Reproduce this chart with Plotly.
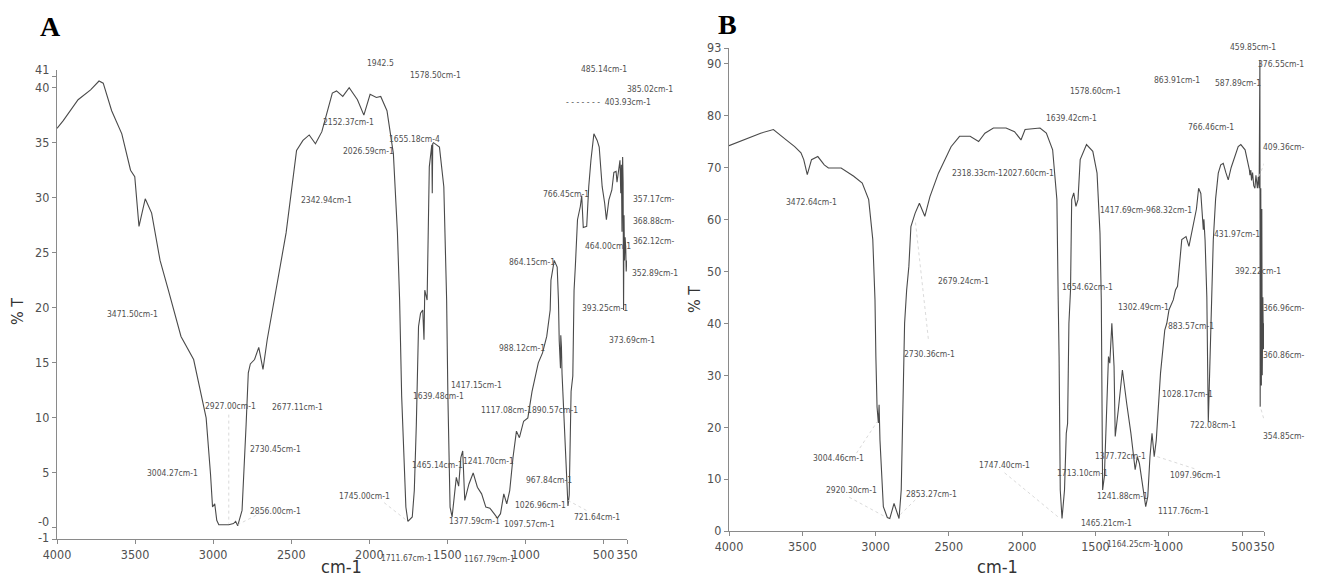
import plotly.graph_objects as go

# ---------------- data ----------------
wn_a = [4000, 3960, 3865, 3785, 3731, 3704, 3650, 3596, 3585, 3529, 3502, 3475, 3435, 3394, 3340,
        3287, 3206, 3125, 3045, 3017, 3004, 2990, 2977, 2964, 2900, 2870, 2856, 2843, 2815, 2789,
        2775, 2762, 2735, 2708, 2681, 2654, 2600, 2533, 2466, 2425, 2385, 2345, 2304, 2237, 2210,
        2170, 2129, 2076, 2035, 1995, 1955, 1927, 1887, 1846, 1820, 1806, 1793, 1766, 1753, 1725,
        1712, 1699, 1685, 1672, 1658, 1650, 1645, 1630, 1616, 1603, 1600, 1597, 1594, 1589, 1551,
        1523, 1505, 1497, 1483, 1470, 1443, 1428, 1414, 1402, 1389, 1362, 1335, 1308, 1281, 1254,
        1228, 1201, 1180, 1160, 1139, 1120, 1101, 1080, 1058, 1039, 1012, 985, 958, 918, 891,
        864, 842, 837, 816, 797, 789, 784, 776, 774, 770, 766, 743, 728, 720, 708,
        697, 689, 681, 667, 649, 640, 630, 608, 595, 581, 562, 541, 528, 509, 493,
        482, 466, 447, 434, 420, 414, 402, 395, 390, 386, 382, 378, 375, 372, 369,
        366, 362, 358, 355, 352, 350]
t_a = [36.3, 37.0, 38.9, 39.8, 40.6, 40.4, 37.9, 36.1, 35.8, 32.5, 31.9, 27.4, 29.9, 28.6, 24.3,
       21.6, 17.4, 15.3, 10.0, 4.9, 1.9, 2.2, 0.7, 0.3, 0.3, 0.4, 0.6, 0.2, 1.6, 9.4,
       14.1, 14.9, 15.3, 16.4, 14.4, 17.1, 21.6, 26.8, 34.3, 35.2, 35.7, 34.9, 36.0, 39.5, 39.7,
       39.2, 40.0, 38.9, 37.5, 39.4, 39.1, 39.2, 37.9, 34.0, 26.8, 20.7, 12.0, 1.9, 0.6, 1.0,
       3.4, 9.4, 18.3, 19.5, 19.8, 17.1, 21.6, 20.7, 32.8, 34.6, 34.8, 30.4, 34.9, 35.0, 34.6,
       31.0, 20.7, 12.0, 1.9, 1.0, 4.6, 3.8, 6.4, 7.0, 2.5, 4.0, 5.0, 3.7, 3.1, 1.9,
       1.8, 1.3, 0.9, 1.3, 3.1, 2.2, 3.4, 6.4, 8.8, 8.2, 9.7, 10.0, 12.4, 15.0, 15.9,
       17.4, 19.8, 22.5, 24.3, 23.7, 20.7, 17.0, 14.5, 17.5, 16.5, 14.0, 6.0, 2.0, 3.0, 12.4,
       13.8, 21.6, 23.7, 28.0, 29.2, 30.2, 27.3, 27.4, 31.0, 33.4, 35.8, 35.2, 34.6, 31.0, 29.5,
       28.0, 29.8, 30.7, 32.3, 32.4, 31.4, 32.8, 33.4, 30.4, 33.0, 26.9, 33.7, 31.4, 19.8, 28.4,
       24.3, 26.4, 25.4, 23.3, 24.3, 23.8]

wn_b = [4000, 3899, 3784, 3697, 3668, 3610, 3552, 3509, 3490, 3466, 3437, 3394, 3350, 3322, 3235,
        3149, 3091, 3047, 3019, 3004, 2998, 2990, 2981, 2976, 2970, 2947, 2920, 2903, 2874, 2860,
        2840, 2825, 2816, 2802, 2788, 2773, 2759, 2730, 2701, 2664, 2629, 2571, 2485, 2427, 2355,
        2297, 2254, 2196, 2110, 2052, 2008, 1980, 1878, 1835, 1792, 1763, 1754, 1748, 1740, 1728,
        1711, 1699, 1690, 1681, 1670, 1662, 1648, 1633, 1619, 1604, 1561, 1518, 1489, 1469, 1460,
        1454, 1451, 1439, 1422, 1411, 1402, 1388, 1373, 1365, 1344, 1316, 1287, 1258, 1229, 1214,
        1200, 1186, 1157, 1143, 1128, 1114, 1099, 1085, 1056, 1027, 1013, 998, 969, 954, 940,
        911, 882, 862, 833, 811, 796, 781, 764, 760, 752, 740, 730, 722, 715, 705,
        696, 680, 662, 645, 628, 610, 594, 574, 551, 526, 508, 479, 450, 446, 440,
        435, 428, 420, 412, 405, 395, 389, 383, 378, 377, 376, 374, 372, 370, 368,
        365, 362, 358, 354, 350]
t_b = [74.2, 75.3, 76.6, 77.3, 76.6, 75.3, 74.0, 72.8, 71.5, 68.6, 71.5, 72.1, 70.5, 69.9, 69.9,
       68.3, 67.0, 63.8, 56.1, 44.5, 33.6, 23.9, 20.8, 24.3, 17.5, 4.7, 2.6, 2.4, 5.3, 4.0,
       2.4, 7.9, 20.8, 40.0, 46.4, 50.9, 58.6, 61.2, 63.1, 60.6, 64.4, 68.9, 74.0, 76.0, 76.0,
       75.0, 76.6, 77.6, 77.6, 76.9, 75.3, 77.3, 77.6, 76.6, 73.4, 63.8, 44.5, 33.6, 7.9, 2.4,
       7.9, 18.8, 20.7, 40.0, 46.4, 63.8, 65.1, 62.5, 63.8, 71.5, 74.4, 73.1, 68.9, 57.4, 44.5,
       27.2, 7.9, 10.5, 27.2, 33.6, 32.3, 40.0, 31.7, 18.2, 23.3, 31.0, 24.6, 18.8, 11.8, 14.3,
       13.0, 10.5, 4.7, 6.6, 14.3, 18.8, 14.3, 17.5, 30.4, 38.7, 40.0, 42.6, 44.5, 46.4, 47.1,
       56.1, 56.7, 54.8, 58.6, 62.0, 66.0, 65.0, 58.0, 60.0, 56.0, 45.0, 21.0, 30.0, 40.0, 50.0,
       56.0, 64.0, 68.9, 70.5, 70.8, 69.0, 67.6, 70.0, 72.1, 74.0, 74.4, 73.4, 69.6, 68.5, 69.5,
       67.5, 69.0, 66.5, 66.0, 68.5, 66.0, 68.2, 66.0, 90.7, 60.0, 23.9, 50.0, 66.0, 40.0, 28.0,
       62.0, 30.0, 45.0, 35.0, 40.0]

x_ticks = [4000, 3500, 3000, 2500, 2000, 1500, 1000, 500, 350]
y_ticks_a = [-1, 0, 5, 10, 15, 20, 25, 30, 35, 40, 41]
y_text_a = ["", "", "5", "10", "15", "20", "25", "30", "35", "40", ""]
# end-of-axis labels drawn beside the axis: (text, value, vertical nudge in px)
y_end_labels_a = [("41", 41.6, 0), ("-0", 0, 6), ("-1", -1, 2)]
y_ticks_b = [0, 10, 20, 30, 40, 50, 60, 70, 80, 90, 93]

# peak labels: (text, wavenumber position, %T position, anchor)
labels_a = [
    ("1942.5", 1926, 42.2, "center"), ("1578.50cm-1", 1576, 41.15, "center"),
    ("2152.37cm-1", 2133, 36.85, "center"), ("1655.18cm-4", 1710, 35.3, "center"),
    ("2026.59cm-1", 2007, 34.2, "center"), ("2342.94cm-1", 2276, 29.8, "center"),
    ("485.14cm-1", 498, 41.66, "center"), ("385.02cm-1", 363, 39.9, "left"),
    ("- - - - - - -  403.93cm-1", 754, 38.7, "left"), ("766.45cm-1", 741, 30.3, "center"),
    ("357.17cm-", 323, 29.9, "left"), ("368.88cm-", 323, 27.9, "left"),
    ("362.12cm-", 323, 26.05, "left"), ("464.00cm-1", 471, 25.6, "center"),
    ("864.15cm-1", 956, 24.2, "center"), ("352.89cm-1", 331, 23.2, "left"),
    ("393.25cm-1", 493, 20.0, "center"), ("3471.50cm-1", 3515, 19.4, "center"),
    ("373.69cm-1", 315, 17.05, "center"), ("988.12cm-1", 1023, 16.35, "center"),
    ("1417.15cm-1", 1314, 13.0, "center"), ("1639.48cm-1", 1554, 12.0, "center"),
    ("2927.00cm-1", 2887, 11.1, "center"), ("2677.11cm-1", 2459, 11.0, "center"),
    ("1117.08cm-1", 1123, 10.7, "center"), ("890.57cm-1", 808, 10.7, "center"),
    ("2730.45cm-1", 2599, 7.2, "center"), ("1465.14cm-1", 1562, 5.75, "center"),
    ("1241.70cm-1", 1234, 6.05, "center"), ("3004.27cm-1", 3259, 5.0, "center"),
    ("967.84cm-1", 848, 4.4, "center"), ("1745.00cm-1", 2034, 2.9, "center"),
    ("1026.96cm-1", 902, 2.1, "center"), ("2856.00cm-1", 2599, 1.5, "center"),
    ("1377.59cm-1", 1325, 0.6, "center"), ("721.64cm-1", 539, 1.0, "center"),
    ("1097.57cm-1", 975, 0.4, "center"), ("1711.67cm-1", 1765, -2.7, "center"),
    ("1167.79cm-1", 1228, -2.8, "center"),
]
labels_b = [
    ("459.85cm-1", 422, 93.2, "center"), ("376.55cm-1", 63, 90.0, "right"),
    ("863.91cm-1", 945, 86.8, "center"), ("587.89cm-1", 528, 86.2, "center"),
    ("1578.60cm-1", 1500, 84.8, "center"), ("1639.42cm-1", 1663, 79.5, "center"),
    ("766.46cm-1", 715, 77.8, "center"), ("409.36cm-", 63, 74.0, "right"),
    ("2318.33cm-12027.60cm-1", 2132, 69.0, "center"), ("3472.64cm-1", 3434, 63.4, "center"),
    ("1417.69cm-968.32cm-1", 1155, 61.9, "center"), ("431.97cm-1", 537, 57.2, "center"),
    ("392.22cm-1", 393, 50.1, "center"), ("2679.24cm-1", 2399, 48.2, "center"),
    ("1654.62cm-1", 1557, 46.9, "center"), ("366.96cm-", 63, 42.9, "right"),
    ("1302.49cm-1", 1175, 43.1, "center"), ("883.57cm-1", 847, 39.5, "center"),
    ("2730.36cm-1", 2635, 34.1, "center"), ("360.86cm-", 63, 33.9, "right"),
    ("1028.17cm-1", 873, 26.4, "center"), ("722.08cm-1", 695, 20.4, "center"),
    ("354.85cm-", 63, 18.2, "right"), ("3004.46cm-1", 3253, 14.0, "center"),
    ("1747.40cm-1", 2123, 12.7, "center"), ("1377.72cm-1", 1327, 14.5, "center"),
    ("1713.10cm-1", 1586, 11.2, "center"), ("1097.96cm-1", 819, 10.8, "center"),
    ("2920.30cm-1", 3167, 7.9, "center"), ("2853.27cm-1", 2620, 7.1, "center"),
    ("1241.88cm-1", 1313, 6.7, "center"), ("1117.76cm-1", 896, 3.9, "center"),
    ("1465.21cm-1", 1422, 1.5, "center"), ("1164.25cm-1", 1245, -2.5, "center"),
]

# faint leader lines from labels to peaks: (wn0, T0, wn1, T1)
leaders_a = [(2900, 10.3, 2900, 0.4), (2690, 1.4, 2843, 0.3), (1905, 2.3, 1753, 0.6),
             (610, 1.6, 728, 2.5)]
leaders_b = [(3130, 15.0, 2990, 21.0), (3180, 6.5, 2925, 2.6), (2700, 6.8, 2845, 2.8),
             (2120, 11.2, 1750, 2.6), (2640, 37.0, 2730, 60.0), (825, 12.0, 1099, 14.5),
             (330, 19.5, 376, 24.0), (330, 72.0, 389, 68.0)]

# ---------------- figure ----------------
OFF = 8                      # page body margin
W, H = 1319 - 2 * OFF, 585 - 2 * OFF


def fx(px):
    return (px - OFF) / W


def fy(py):
    return 1 - (py - OFF) / H


PANELS = {
    "a": dict(xref="x", yref="y", yr=(-1, 41.6), sx=570 / 3650, sy=469 / 42.6),
    "b": dict(xref="x2", yref="y2", yr=(0, 93), sx=535 / 3650, sy=483 / 93),
}
LINE = "#4a4a4a"
AXC = "#8a8a8a"
TXT = "#505050"
NARROW = "DejaVu Sans Condensed, Liberation Sans Narrow, Liberation Sans, Arial, sans-serif"
TICKSIZE = 12.5

fig = go.Figure()
fig.add_trace(go.Scatter(x=wn_a, y=t_a, mode="lines", line=dict(color=LINE, width=1.1),
                         xaxis="x", yaxis="y", hoverinfo="skip", showlegend=False))
fig.add_trace(go.Scatter(x=wn_b, y=t_b, mode="lines", line=dict(color=LINE, width=1.1),
                         xaxis="x2", yaxis="y2", hoverinfo="skip", showlegend=False))

for key, leaders in (("a", leaders_a), ("b", leaders_b)):
    P = PANELS[key]
    for x0, y0, x1, y1 in leaders:
        fig.add_trace(go.Scatter(x=[x0, x1], y=[y0, y1], mode="lines",
                                 line=dict(color="#d0d0d0", width=0.8, dash="dot"),
                                 xaxis=P["xref"], yaxis=P["yref"], hoverinfo="skip",
                                 showlegend=False))


def add_label(key, text, wn, t, anchor):
    P = PANELS[key]
    wc = min(max(wn, 350.5), 3999.5)
    lo, hi = P["yr"]
    tc = min(max(t, lo + 0.02), hi - 0.02)
    fig.add_annotation(x=wc, y=tc, xref=P["xref"], yref=P["yref"], text=text,
                       showarrow=False, xanchor=anchor, yanchor="middle",
                       xshift=(wc - wn) * P["sx"], yshift=(t - tc) * P["sy"],
                       font=dict(family=NARROW, size=8.5, color=TXT))


for lab in labels_a:
    add_label("a", *lab)
for lab in labels_b:
    add_label("b", *lab)

axis_common = dict(showgrid=False, zeroline=False, showline=True, linecolor=AXC, linewidth=1.2,
                   ticks="outside", ticklen=4, tickcolor=AXC, tickwidth=1, automargin=False,
                   tickfont=dict(family=NARROW, size=TICKSIZE, color=TXT))

fig.update_layout(
    width=W, height=H, margin=dict(l=0, r=0, t=0, b=0, autoexpand=False),
    paper_bgcolor="white", plot_bgcolor="white", showlegend=False,
    xaxis=dict(domain=[fx(57), fx(627)], range=[4000, 350], tickvals=x_ticks, tickangle=0,
               anchor="y", **axis_common),
    yaxis=dict(domain=[fy(539), fy(70)], range=[-1, 41.6], tickvals=y_ticks_a,
               ticktext=y_text_a, anchor="x", **axis_common),
    xaxis2=dict(domain=[fx(729), fx(1264)], range=[4000, 350], tickvals=x_ticks, tickangle=0,
                anchor="y2", **axis_common),
    yaxis2=dict(domain=[fy(531), fy(48)], range=[0, 93], tickvals=y_ticks_b,
                anchor="x2", **axis_common),
)

# axis-end labels of panel A (placed like tick labels)
for txt, val, nudge in y_end_labels_a:
    fig.add_annotation(x=fx(57), y=val, xref="paper", yref="y", text=txt, showarrow=False,
                       xanchor="right", yanchor="middle", xshift=-6, yshift=nudge,
                       font=dict(family=NARROW, size=TICKSIZE, color=TXT))

# panel letters and axis titles
for txt, px, py in (("A", 50, 27), ("B", 727, 24)):
    fig.add_annotation(x=fx(px), y=fy(py), xref="paper", yref="paper", text="<b>%s</b>" % txt,
                       showarrow=False, xanchor="center", yanchor="middle",
                       font=dict(family="Liberation Serif, Times New Roman, serif",
                                 size=28, color="black"))
for px in (341, 997):
    fig.add_annotation(x=fx(px), y=fy(566), xref="paper", yref="paper", text="cm-1",
                       showarrow=False, xanchor="center", yanchor="middle",
                       font=dict(family=NARROW, size=18, color="#333"))
for px, py in ((17, 312), (694, 300)):
    fig.add_annotation(x=fx(px), y=fy(py), xref="paper", yref="paper", text="% T",
                       textangle=-90, showarrow=False, xanchor="center", yanchor="middle",
                       font=dict(family=NARROW, size=16, color="#333"))

fig.write_html("out.html")
